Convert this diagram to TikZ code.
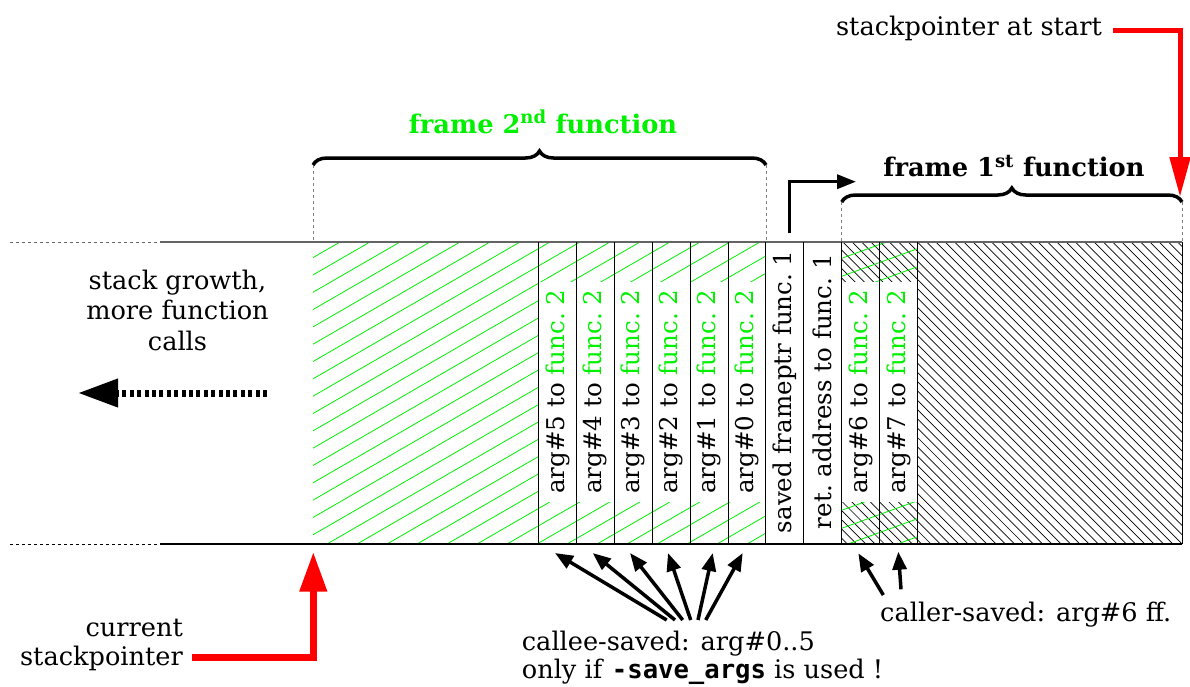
\documentclass[tikz,border=0pt]{standalone}
\usepackage{fontspec}
\setmainfont{DejaVu Serif}
\setmonofont{DejaVu Sans Mono}
\usetikzlibrary{arrows.meta,decorations.pathreplacing}

\definecolor{fgreen}{RGB}{0,240,0}
\definecolor{sred}{RGB}{255,0,0}
\definecolor{rulegray}{RGB}{100,100,100}

\tikzset{
  txt/.style={inner sep=0pt, font=\fontsize{25.6}{30.5}\selectfont},
  title/.style={inner sep=0pt, font=\bfseries\fontsize{25.7}{30}\selectfont},
  slot/.style={rotate=90, fill=white, inner xsep=8pt, inner ysep=0pt,
    minimum height=37.9pt, font=\fontsize{24.5}{28}\selectfont},
  greenhatch/.style={fgreen, line width=0.8pt},
  blackhatch/.style={black, line width=0.7pt},
  colrule/.style={black, line width=1pt},
  guide/.style={dashed, gray, line width=0.6pt},
  bracket/.style={line width=3.5pt, decorate, decoration={brace, amplitude=14pt}},
  redarrow/.style={sred, line width=#1},
  fanarrow/.style={line width=3.5pt, -{Triangle[length=18pt,width=14pt]}},
}

\begin{document}
\begin{tikzpicture}[x=1pt,y=-1pt]
\useasboundingbox (0,0) rectangle (1190,686);

% green hatching of the second frame (locals + arg#0..5)
\begin{scope}
  \clip (313,242) rectangle (766,544);
  \foreach \k in {-1,...,33}
    \draw[greenhatch] (340+30*\k,242) -- ++(-523,302);
\end{scope}

% black hatching of the first frame
\begin{scope}
  \clip (841.7,242) rectangle (1182,544);
  \foreach \k in {0,...,72}
    \draw[blackhatch] (536+9.3*\k,242) -- ++(302,302);
\end{scope}

% green overlay on arg#6 and arg#7
\begin{scope}
  \clip (841.7,242) rectangle (917.5,544);
  \foreach \k in {-2,...,17}
    \draw[greenhatch] (841.7,258.3+18*\k) -- ++(75.8,-27.6);
\end{scope}

% slot labels
\node[slot] (a5) at (557.45,391.7) {arg\#5 to \textcolor{fgreen}{func.\ 2}};
\node[slot] (a4) at (595.35,391.7) {arg\#4 to \textcolor{fgreen}{func.\ 2}};
\node[slot] (a3) at (633.25,391.7) {arg\#3 to \textcolor{fgreen}{func.\ 2}};
\node[slot] (a2) at (671.15,391.7) {arg\#2 to \textcolor{fgreen}{func.\ 2}};
\node[slot] (a1) at (709.05,391.7) {arg\#1 to \textcolor{fgreen}{func.\ 2}};
\node[slot] (a0) at (746.95,391.7) {arg\#0 to \textcolor{fgreen}{func.\ 2}};
\node[slot] (fp) at (784.85,391.7) {saved frameptr func.\ 1};
\node[slot] (ra) at (822.75,391.7) {ret.\ address to func.\ 1};
\node[slot] (a6) at (860.65,391.7) {arg\#6 to \textcolor{fgreen}{func.\ 2}};
\node[slot] (a7) at (898.55,391.7) {arg\#7 to \textcolor{fgreen}{func.\ 2}};

% stack outline
\draw[rulegray, dashed, line width=1pt] (10,242) -- (160,242);
\draw[rulegray, line width=1.8pt] (160,242) -- (1182,242);
\draw[black, dashed, line width=0.8pt] (10,544) -- (160,544);
\draw[black, line width=1.2pt] (160,544) -- (1182,544);
\foreach \x in {538.5,576.4,614.3,652.2,690.1,728,765.9,803.8,841.7,879.6,917.5,1182}
  \draw[colrule] (\x,242) -- (\x,544);

% frame braces
\draw[guide] (313,165) -- (313,242);
\draw[guide] (766,165) -- (766,242);
\draw[guide] (841.7,202) -- (841.7,242);
\draw[guide] (1182,202) -- (1182,242);
\draw[bracket] (313,165) -- (766,165);
\draw[bracket] (841.7,202) -- (1182,202);
\node[title, text=fgreen, anchor=base] (f2) at (543,133) {frame 2\textsuperscript{nd} function};
\node[title, anchor=base] (f1) at (1014,176.7) {frame 1\textsuperscript{st} function};

% stack pointer at start
\node[txt, anchor=base east] (spstart) at (1102,35) {stackpointer at start};
\coordinate (sp-tail) at (1113,30);
\coordinate (sp-tip) at (1180,197);
\draw[redarrow=5pt, -{Triangle[length=40pt,width=20pt]}] (sp-tail) -| (sp-tip);

% saved frame pointer link
\coordinate (fp-tail) at (789.3,233.3);
\coordinate (fp-tip) at (856,181.7);
\draw[line width=3.5pt, -{Triangle[length=19pt,width=14pt]}] (fp-tail) |- (fp-tip);

% growth direction
\node[txt, align=center, anchor=base] (growth) at (177.5,350) {stack growth,\\more function\\calls};
\coordinate (grow-tail) at (267,393);
\coordinate (grow-tip) at (78,393);
\draw[line width=7pt, dash pattern=on 4pt off 3.4pt, -{Triangle[length=40pt,width=27pt]}] (grow-tail) -- (grow-tip);

% current stack pointer
\node[txt, align=right, anchor=base east, font=\fontsize{25.6}{29}\selectfont] (cursp) at (183,665) {current\\stackpointer};
\coordinate (cur-tail) at (191.7,657.7);
\coordinate (cur-tip) at (313.3,551.7);
\draw[redarrow=7.5pt, -{Triangle[length=40pt,width=26pt]}] (cur-tail) -| (cur-tip);

% callee-saved arguments
\node[txt, align=left, anchor=base west, font=\fontsize{25.6}{28}\selectfont] (callee) at (521.7,678)
  {callee-saved: arg\#0..5\\only if \textbf{\ttfamily -save\_args} is used !};
\coordinate (c5) at (555,553);
\coordinate (c4) at (592.7,553);
\coordinate (c3) at (630,553);
\coordinate (c2) at (668,553);
\coordinate (c1) at (712.7,553);
\coordinate (c0) at (742.7,553);
\coordinate (o5) at (666.7,620);
\coordinate (o4) at (675,620);
\coordinate (o3) at (682.7,620);
\coordinate (o2) at (690.7,620);
\coordinate (o1) at (698,620);
\coordinate (o0) at (705.7,620);
\foreach \i in {0,...,5}
  \draw[fanarrow] (o\i) -- (c\i);

% caller-saved arguments
\node[txt, anchor=base west] (caller) at (880,621.7) {caller-saved: arg\#6 ff.};
\coordinate (c6) at (858.3,553.3);
\coordinate (c7) at (898.3,551.7);
\coordinate (o6) at (883.3,595);
\coordinate (o7) at (901,589.3);
\draw[fanarrow] (o6) -- (c6);
\draw[fanarrow] (o7) -- (c7);
\end{tikzpicture}
\end{document}
